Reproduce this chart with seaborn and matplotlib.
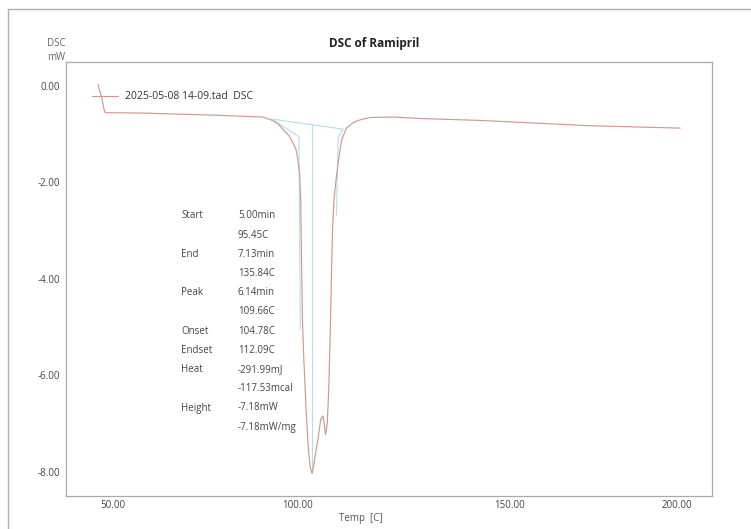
import numpy as np
import pandas as pd
import matplotlib
matplotlib.use('Agg')
import matplotlib.pyplot as plt
import seaborn as sns
from matplotlib.ticker import MultipleLocator

# DSC trace: the x axis of the instrument is time (min), labelled in temperature
time_min = [0.03, 0.07, 0.13, 0.19, 0.23, 0.29, 1.43, 3.31, 4.37, 4.74, 4.94, 5.14,
            5.31, 5.49, 5.60, 5.69, 5.74, 5.79, 5.82, 5.84, 5.87, 5.91, 5.97, 6.04,
            6.09, 6.14, 6.18, 6.23, 6.31, 6.39, 6.45, 6.49, 6.53, 6.58, 6.62, 6.66,
            6.69, 6.73, 6.77, 6.83, 6.89, 6.99, 7.13, 7.31, 7.51, 7.80, 8.46, 9.23,
            10.94, 14.09, 16.66]
dsc_mw = [0.03, -0.09, -0.23, -0.46, -0.55, -0.56, -0.57, -0.61, -0.64, -0.65, -0.70, -0.77,
          -0.90, -1.04, -1.19, -1.33, -1.54, -1.85, -2.37, -3.40, -4.85, -5.68, -6.65, -7.54,
          -7.89, -8.03, -7.92, -7.68, -7.34, -6.92, -6.84, -6.99, -7.23, -6.99, -6.30, -5.26,
          -4.23, -2.99, -2.37, -1.95, -1.60, -1.12, -0.88, -0.77, -0.71, -0.66, -0.65, -0.68,
          -0.72, -0.83, -0.88]

# peak analysis lines
baseline_t = [4.97, 7.03]
baseline_v = [-0.69, -0.90]
onset_t = [5.03, 5.77, 5.81]
onset_v = [-0.71, -1.06, -5.06]
peak_t = [6.13, 6.13]
peak_v = [-0.82, -8.02]
endset_t = [7.03, 6.89, 6.84]
endset_v = [-0.90, -1.08, -2.68]

# temperature ticks and the time at which each was reached
tick_temps = [50, 60, 70, 80, 90, 100, 110, 120, 130, 140, 150, 160, 170, 180, 190, 200, 210]
tick_times = [0.45, 1.40, 2.49, 3.60, 4.71, 5.74, 7.00, 8.11, 9.23, 10.54, 11.80, 12.77,
              13.77, 14.77, 15.63, 16.57, 17.31]
labelled_temps = [50, 100, 150, 200]

result_names = ['Start', '', 'End', '', 'Peak', '', 'Onset', 'Endset', 'Heat', '', 'Height', '']
result_values = ['5.00min', '95.45C', '7.13min', '135.84C', '6.14min', '109.66C',
                 '104.78C', '112.09C', '-291.99mJ', '-117.53mcal', '-7.18mW', '-7.18mW/mg']

df = pd.DataFrame({'time': time_min, 'dsc': dsc_mw})

sns.set_style('white')
plt.rcParams['font.family'] = ['Open Sans', 'DejaVu Sans']

W, H = 751, 529
fig = plt.figure(figsize=(W / 100, H / 100), dpi=100)
ax = fig.add_axes([66 / W, (H - 496) / H, 646 / W, 434 / H])

curve_col = '#cf9a8c'
cyan = '#b2e0ea'

sns.lineplot(data=df, x='time', y='dsc', sort=False, estimator=None, ax=ax,
             color=curve_col, lw=0.85, label='2025-05-08 14-09.tad  DSC')
for tx, vy in [(baseline_t, baseline_v), (onset_t, onset_v), (peak_t, peak_v),
               (endset_t, endset_v)]:
    ax.plot(tx, vy, color=cyan, lw=0.8, zorder=1)

ax.set_xlim((66 - 97) / 35, (712 - 97) / 35)
ax.set_ylim(-8.5, 0.49)

# x ticks: temperature labels on the time axis
major_pos = [t for t, c in zip(tick_times, tick_temps) if c in labelled_temps]
minor_pos = [t for t, c in zip(tick_times, tick_temps) if c not in labelled_temps]
ax.set_xticks(major_pos)
ax.set_xticklabels([f'{c:.2f}' for c in labelled_temps])
ax.set_xticks(minor_pos, minor=True)

ax.set_yticks(np.arange(-8, 0.1, 2))
ax.set_yticklabels([f'{v:.2f}' for v in np.arange(-8, 0.1, 2)])
ax.yaxis.set_minor_locator(MultipleLocator(0.5))

ax.tick_params(which='both', direction='in', color='#9a9a9a', width=0.8,
               labelsize=7, labelcolor='#444444')
ax.tick_params(which='major', length=4)
ax.tick_params(which='minor', length=3.5)
ax.tick_params(axis='y', pad=4.5)
ax.tick_params(axis='x', pad=3)

for s in ax.spines.values():
    s.set_color('#a8a8a8')
    s.set_linewidth(0.9)

ax.set_xlabel('')
ax.set_ylabel('')

leg = ax.legend(loc='center left', bbox_to_anchor=((92 - 66) / 646, (496 - 96.7) / 434),
                frameon=False, fontsize=7.5, handlelength=2.5, handletextpad=0.65,
                borderpad=0, borderaxespad=0)
for t in leg.get_texts():
    t.set_color('#333333')

# texts around the axes
fig.text(374 / W, 1 - 44 / H, 'DSC of Ramipril', ha='center', va='center',
         fontsize=8.5, fontweight='bold', color='#222222')
fig.text(56 / W, 1 - 43 / H, 'DSC', ha='center', va='center', fontsize=7, color='#666666')
fig.text(56 / W, 1 - 58 / H, 'mW', ha='center', va='center', fontsize=7, color='#666666')
fig.text(361 / W, 1 - 518 / H, 'Temp  [C]', ha='center', va='center', fontsize=7,
         color='#555555')

for i, (name, val) in enumerate(zip(result_names, result_values)):
    y = 1 - (216 + 19.2 * i) / H
    fig.text(181 / W, y, name, ha='left', va='center', fontsize=7, color='#444444')
    fig.text(238 / W, y, val, ha='left', va='center', fontsize=7, color='#444444')

# page frame
fig.add_artist(plt.Line2D([8 / W, 8 / W], [0, 1 - 9 / H], transform=fig.transFigure,
                          color='#b0b0b0', lw=1.0))
fig.add_artist(plt.Line2D([8 / W, 1], [1 - 9 / H, 1 - 9 / H], transform=fig.transFigure,
                          color='#b0b0b0', lw=1.0))

fig.savefig('out.png', dpi=100)
